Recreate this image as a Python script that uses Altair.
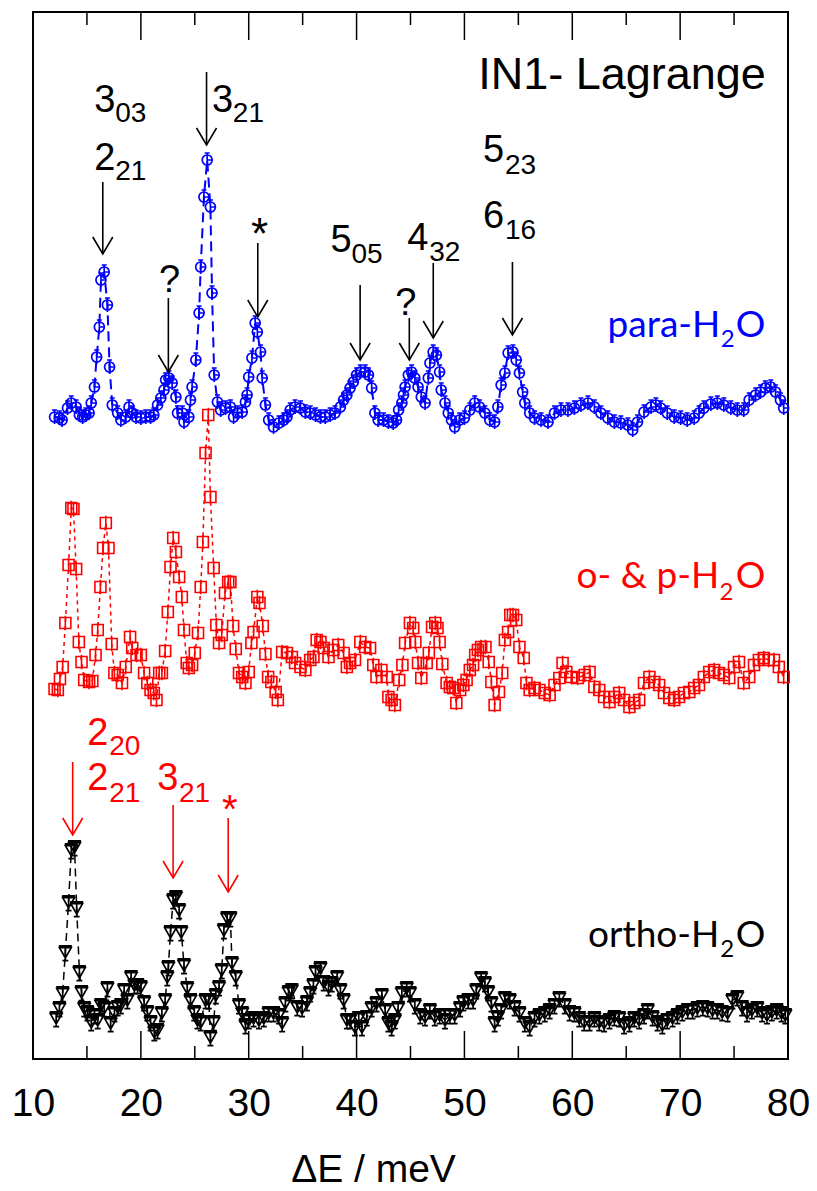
import altair as alt
import pandas as pd

# ---------------- data (x in meV, y = intensity in offset units) ----------------
para_x = [12.0, 12.45, 12.7, 13.2, 13.55, 14.0, 14.3, 14.6, 14.9, 15.2, 15.4, 15.7, 15.9, 16.15, 16.3, 16.6,
          16.9, 17.1, 17.35, 17.85, 18.15, 18.6, 18.9, 19.2, 19.55, 20.0, 20.45, 20.9, 21.2, 21.55, 21.85,
          22.15, 22.3, 22.6, 22.9, 23.25, 23.4, 23.85, 24.0, 24.45, 24.6, 24.75, 25.1, 25.4, 25.55, 25.85,
          26.15, 26.45, 26.6, 26.8, 27.1, 27.4, 27.85, 28.3, 28.6, 28.95, 29.4, 29.7, 29.85, 30.0, 30.3,
          30.6, 30.8, 31.1, 31.25, 31.55, 31.85, 32.3, 32.8, 33.25, 33.55, 33.85, 34.3, 34.8, 35.25, 35.7,
          36.2, 36.65, 37.1, 37.55, 38.0, 38.5, 38.8, 39.1, 39.4, 39.7, 40.0, 40.35, 40.8, 41.1, 41.4, 41.7,
          42.0, 42.5, 42.95, 43.4, 43.7, 43.9, 44.2, 44.35, 44.5, 44.8, 45.1, 45.4, 45.7, 46.0, 46.35, 46.65,
          46.8, 47.1, 47.4, 47.7, 47.85, 48.2, 48.5, 48.8, 49.1, 49.55, 50.0, 50.5, 50.95, 51.4, 51.9, 52.35,
          52.8, 53.1, 53.4, 53.75, 54.05, 54.5, 54.8, 55.1, 55.4, 55.6, 56.05, 56.5, 57.1, 57.75, 58.35,
          58.95, 59.6, 60.2, 60.8, 61.45, 62.05, 62.65, 63.3, 63.9, 64.5, 65.15, 65.6, 66.05, 66.65, 67.3,
          67.75, 68.2, 68.8, 69.45, 70.05, 70.65, 71.3, 71.75, 72.2, 72.85, 73.45, 74.05, 74.7, 75.3, 75.9,
          76.4, 77.0, 77.45, 77.9, 78.4, 78.85, 79.3, 79.6]
para_y = [64.2, 64.1, 63.9, 65.1, 65.6, 65.2, 64.4, 64.2, 64.4, 64.6, 65.6, 67.2, 70.2, 73.2, 77.9, 78.7,
          75.4, 69.2, 65.4, 64.6, 63.9, 64.2, 65.2, 64.6, 64.2, 64.1, 64.2, 64.2, 64.4, 65.4, 66.1,
          66.9, 67.9, 68.1, 67.6, 66.2, 64.6, 64.6, 63.7, 64.2, 65.9, 67.2, 69.9, 74.6, 79.2, 86.2,
          89.9, 85.2, 76.6, 68.4, 65.7, 64.9, 65.1, 65.2, 64.2, 64.6, 64.7, 65.7, 66.4, 68.2, 70.1,
          73.6, 72.7, 70.7, 68.1, 65.4, 63.9, 63.2, 63.6, 63.9, 64.2, 64.9, 65.2, 65.1, 64.7, 64.6,
          64.4, 64.2, 64.2, 64.4, 64.6, 65.2, 65.9, 66.4, 67.1, 67.7, 68.4, 68.7, 68.7, 68.4, 67.1, 64.6,
          63.9, 63.9, 63.7, 63.6, 63.9, 64.9, 65.6, 66.4, 67.2, 68.4, 68.7, 68.1, 67.2, 66.2, 65.6, 68.1,
          69.6, 70.7, 70.4, 68.7, 66.9, 65.6, 64.6, 63.9, 63.2, 63.9, 64.1, 64.9, 65.6, 65.2, 64.6, 63.9,
          63.7, 65.2, 67.4, 68.6, 70.6, 70.7, 69.9, 68.6, 66.7, 65.6, 64.6, 64.1, 63.9, 63.7, 64.6,
          64.9, 64.9, 65.1, 65.4, 65.6, 65.2, 64.6, 64.1, 63.7, 63.6, 63.4, 62.9, 63.7, 64.7, 65.2,
          65.4, 65.1, 64.6, 64.2, 64.1, 63.9, 64.1, 64.6, 65.1, 65.5, 65.6, 65.4, 65.1, 64.9, 64.9,
          65.9, 66.4, 66.7, 67.1, 67.2, 66.7, 65.9, 65.1]

mix_x = [12.0, 12.3, 12.5, 12.75, 13.0, 13.3, 13.55, 13.75, 14.0, 14.25, 14.5, 14.75, 15.2, 15.5, 15.8, 16.0,
         16.25, 16.5, 16.75, 17.0, 17.3, 17.55, 17.85, 18.25, 18.6, 19.0, 19.2, 19.6, 20.0, 20.3, 20.6,
         20.9, 21.2, 21.45, 21.7, 21.95, 22.25, 22.5, 22.75, 23.0, 23.25, 23.55, 23.8, 24.0, 24.25, 24.45,
         24.75, 25.0, 25.3, 25.55, 25.75, 26.0, 26.25, 26.45, 26.75, 27.0, 27.25, 27.5, 27.8, 28.1, 28.3,
         28.55, 28.8, 29.1, 29.4, 29.7, 30.0, 30.25, 30.45, 30.8, 31.0, 31.3, 31.55, 31.8, 32.1, 32.5,
         32.7, 33.1, 33.55, 34.0, 34.3, 34.8, 35.25, 35.7, 36.0, 36.3, 36.65, 36.95, 37.4, 37.85, 38.3,
         38.8, 39.1, 39.4, 39.85, 40.35, 40.8, 41.25, 41.55, 41.85, 42.3, 42.8, 42.95, 43.25, 43.55, 43.95,
         44.25, 44.5, 44.95, 45.25, 45.45, 45.7, 46.0, 46.5, 46.7, 47.0, 47.3, 47.5, 47.7, 47.95, 48.35,
         48.65, 48.95, 49.25, 49.6, 49.9, 50.2, 50.5, 50.8, 51.0, 51.25, 51.55, 51.95, 52.25, 52.5, 52.8,
         53.2, 53.5, 53.75, 54.05, 54.25, 54.5, 54.8, 55.1, 55.5, 55.75, 56.05, 56.5, 56.95, 57.45, 57.9,
         58.35, 58.8, 59.1, 59.45, 59.9, 60.5, 61.15, 61.6, 62.05, 62.5, 62.95, 63.45, 63.9, 64.35, 64.8,
         65.3, 65.75, 66.2, 66.65, 67.15, 67.6, 68.05, 68.5, 69.0, 69.45, 69.9, 70.35, 70.85, 71.3, 71.75,
         72.2, 72.7, 73.15, 73.6, 74.05, 74.55, 75.0, 75.45, 75.9, 76.4, 76.85, 77.3, 77.75, 78.2, 78.7,
         79.15, 79.6]
mix_y = [37.0, 36.9, 38.0, 39.2, 43.6, 49.4, 55.1, 55.0, 49.0, 41.7, 39.7, 37.9, 37.7, 37.8, 40.4, 42.9,
         47.2, 51.1, 53.6, 51.1, 41.5, 38.6, 38.4, 37.6, 39.2, 42.2, 41.1, 40.4, 40.4, 38.6, 37.6,
         36.9, 36.6, 35.9, 38.6, 38.6, 40.8, 44.7, 49.2, 52.1, 50.7, 48.2, 46.2, 42.9, 39.6, 39.1,
         39.4, 40.6, 42.6, 47.2, 51.7, 60.6, 64.4, 56.2, 49.1, 43.4, 41.6, 42.4, 46.6, 47.7, 47.7,
         43.3, 41.0, 38.6, 38.2, 37.6, 38.7, 41.6, 42.7, 46.2, 45.6, 43.3, 40.5, 38.2, 37.7, 36.7,
         35.9, 40.7, 40.6, 40.2, 39.6, 39.2, 38.9, 39.9, 40.2, 41.9, 41.7, 41.1, 40.2, 40.9, 41.4,
         40.6, 39.2, 39.6, 39.9, 41.7, 41.2, 41.1, 39.4, 38.2, 38.9, 38.2, 36.2, 35.9, 35.4, 37.9,
         39.4, 41.6, 43.6, 43.1, 41.7, 39.6, 38.1, 39.6, 40.6, 43.2, 43.6, 43.1, 41.7, 39.5, 37.6,
         37.2, 37.1, 35.6, 36.9, 37.4, 37.9, 38.9, 39.4, 40.4, 40.9, 41.2, 41.2, 39.7, 37.7, 35.4,
         36.7, 38.6, 41.9, 42.7, 44.4, 44.4, 43.9, 41.2, 40.1, 37.6, 36.9, 37.1, 36.9, 36.6, 36.4,
         37.4, 38.1, 39.6, 38.7, 38.2, 38.1, 38.4, 38.7, 37.2, 36.9, 36.2, 35.7, 36.2, 36.6, 35.9,
         35.2, 35.6, 35.9, 37.6, 38.2, 37.7, 37.4, 36.6, 36.1, 35.9, 36.2, 36.6, 36.7, 37.1, 37.4,
         38.2, 38.7, 38.9, 38.6, 38.4, 38.1, 39.2, 39.7, 37.6, 38.2, 39.4, 39.9, 40.1, 39.9, 39.9,
         39.2, 38.2]

ortho_x = [12.15, 12.45, 12.75, 13.0, 13.3, 13.55, 13.85, 14.05, 14.3, 14.5, 14.75, 15.05, 15.4, 15.7, 16.0,
           16.3, 16.6, 16.9, 17.2, 17.55, 17.85, 18.15, 18.45, 18.75, 19.1, 19.4, 19.7, 20.0, 20.3, 20.6,
           20.9, 21.25, 21.55, 21.95, 22.25, 22.45, 22.55, 22.75, 23.0, 23.25, 23.55, 23.75, 24.0, 24.3,
           24.6, 24.95, 25.25, 25.55, 26.0, 26.3, 26.45, 26.75, 26.95, 27.25, 27.5, 27.7, 28.0, 28.3,
           28.45, 28.8, 29.1, 29.4, 29.7, 30.0, 30.45, 30.95, 31.4, 31.85, 32.3, 32.8, 33.1, 33.4, 33.7,
           34.0, 34.5, 34.95, 35.4, 35.7, 36.0, 36.2, 36.65, 36.95, 37.4, 37.7, 38.2, 38.5, 38.8, 39.1,
           39.4, 39.85, 40.2, 40.5, 40.95, 41.4, 41.85, 42.35, 42.65, 42.95, 43.25, 43.55, 43.85, 44.2,
           44.65, 44.95, 45.4, 45.9, 46.35, 46.8, 47.25, 47.7, 48.2, 48.65, 49.1, 49.6, 49.9, 50.35,
           50.8, 51.1, 51.55, 51.9, 52.2, 52.5, 52.8, 53.1, 53.4, 53.75, 54.2, 54.65, 55.1, 55.6, 56.05,
           56.5, 56.95, 57.45, 57.9, 58.35, 58.8, 59.3, 59.75, 60.2, 60.65, 61.1, 61.6, 62.05, 62.5,
           62.95, 63.45, 63.9, 64.35, 64.8, 65.3, 65.75, 66.2, 66.65, 67.0, 67.45, 67.9, 68.35, 68.8,
           69.3, 69.75, 70.2, 70.7, 71.15, 71.6, 72.1, 72.55, 73.0, 73.45, 73.9, 74.4, 74.85, 75.3,
           75.75, 76.2, 76.65, 77.15, 77.6, 78.05, 78.5, 78.95, 79.4, 79.75]
ortho_y = [4.1, 5.1, 6.6, 10.7, 15.7, 20.9, 21.2, 15.1, 8.7, 6.7, 5.1, 4.7, 3.7, 4.4, 3.9,
           5.4, 5.1, 7.1, 3.6, 4.6, 5.2, 5.4, 6.9, 5.9, 8.2, 7.4, 7.4, 7.2, 5.7, 4.7,
           3.7, 2.7, 2.9, 4.6, 5.9, 8.2, 9.2, 12.7, 15.9, 16.2, 14.9, 12.7, 9.4, 7.1,
           5.9, 4.7, 3.9, 3.7, 5.9, 5.9, 2.2, 3.7, 6.4, 7.2, 8.9, 12.9, 14.1, 14.1,
           9.6, 8.2, 5.4, 4.6, 3.4, 3.9, 4.1, 3.9, 4.1, 4.6, 4.6, 4.4, 3.6, 5.6, 6.7,
           6.9, 5.2, 5.1, 5.7, 6.6, 7.4, 8.7, 9.1, 7.7, 7.2, 7.6, 8.2, 6.9, 5.9, 3.9,
           3.9, 3.2, 4.1, 3.2, 4.2, 5.1, 5.6, 6.4, 4.9, 3.6, 3.2, 3.9, 5.1, 6.6,
           7.1, 6.6, 5.4, 4.4, 4.2, 4.9, 4.2, 4.4, 3.9, 4.4, 4.4, 5.1, 5.7, 5.9,
           5.9, 6.9, 8.1, 7.6, 6.7, 5.6, 3.6, 4.2, 4.9, 6.1, 5.9, 5.2, 4.6, 3.6, 3.2,
           4.1, 4.4, 4.6, 4.9, 5.4, 6.1, 5.4, 4.7, 4.6, 4.1, 3.7, 3.7, 4.1, 3.7,
           3.6, 3.9, 4.2, 4.1, 3.4, 3.6, 4.1, 3.9, 4.4, 4.9, 4.2, 3.7, 3.4, 3.9,
           4.1, 4.4, 4.7, 4.9, 4.9, 5.1, 5.2, 5.1, 4.9, 4.9, 4.7, 4.6, 5.9, 6.2,
           5.2, 4.6, 4.9, 5.1, 4.6, 4.4, 4.7, 4.9, 4.6, 4.4]

tick_labels = [10, 20, 30, 40, 50, 60, 70, 80]
major_ticks = [20, 30, 40, 50, 60, 70]
minor_ticks = [15, 25, 35, 45, 55, 65, 75]

# annotations (data coordinates)
blk_main_text = ["3", "2", "3", "?", "5", "?", "4", "5", "6"]
blk_main_x = [15.68, 15.68, 26.59, 21.69, 37.59, 43.59, 44.70, 51.73, 51.73]
blk_main_y = [94.7, 88.9, 94.7, 76.7, 80.7, 74.4, 80.9, 89.7, 83.1]
blk_sub_text = ["03", "21", "21", "05", "32", "23", "16"]
blk_sub_x = [17.62, 17.62, 28.53, 39.53, 46.73, 53.76, 53.76]
blk_sub_y = [93.7, 87.9, 93.7, 79.6, 79.8, 88.5, 82.0]
blk_star_x, blk_star_y = [31.0], [81.0]
blk_arrow_x = [16.47, 22.55, 26.09, 30.84, 40.33, 44.89, 47.11, 54.45]
blk_arrow_top = [87.7, 76.1, 98.7, 81.6, 77.4, 74.1, 79.6, 79.7]
blk_arrow_bot = [80.5, 68.7, 91.4, 74.2, 69.9, 69.9, 72.1, 72.4]

red_main_text = ["2", "2", "3"]
red_main_x = [15.04, 15.04, 21.51]
red_main_y = [31.4, 26.9, 26.9]
red_sub_text = ["20", "21", "21"]
red_sub_x = [17.07, 17.07, 23.54]
red_sub_y = [30.4, 25.7, 25.7]
red_star_x, red_star_y = [28.25], [23.6]
red_arrow_x = [13.68, 22.99, 28.10]
red_arrow_top = [29.7, 25.4, 24.1]
red_arrow_bot = [22.4, 18.1, 16.7]

series_names = ["para", "mix", "ortho"]
series_label = ["para-H", "o- & p-H", "ortho-H"]
series_label_x = [73.72, 73.63, 73.63]
series_label_y = [72.2, 47.1, 11.2]
series_sub_x = [74.40, 74.30, 74.37]
series_sub_y = [71.2, 45.9, 10.2]
series_o_x = [75.15, 75.15, 75.15]

instrument_text, instrument_x, instrument_y = ["IN1- Lagrange"], [51.27], [97.0]

# ---------------- chart ----------------
W, H = 755, 1047
FONT = "Liberation Sans"
xs = alt.Scale(domain=[10, 80], nice=False, zero=False)
ys = alt.Scale(domain=[0, 104.7], nice=False, zero=False)
x_axis = alt.Axis(values=tick_labels, ticks=False, domain=False, grid=False,
                  labelFont=FONT, labelFontSize=39, labelColor="black",
                  labelBaseline="alphabetic", labelPadding=56, labelFlush=False,
                  labelOverlap=False, labelBound=False,
                  title="ΔE / meV", titleFont=FONT, titleFontSize=39, titleFontWeight="normal",
                  titleColor="black", titleX=340, titleY=122, titleBaseline="alphabetic",
                  titleAlign="center")


def X(field="x"):
    return alt.X(f"{field}:Q", scale=xs, axis=x_axis)


def Y(field="y"):
    return alt.Y(f"{field}:Q", scale=ys, axis=None)


CIRCLE = "M -1 0 A 1 1 0 1 1 1 0 A 1 1 0 1 1 -1 0 Z M 0 -1.4 L 0 1.4 M -0.5 -1.4 L 0.5 -1.4 M 0 0 L 1 0"
SQUARE = "M -1 -1 L 1 -1 L 1 1 L -1 1 Z M 0 -1.3 L 0 1.3"
TRIANGLE = "M -1 -0.75 L 1 -0.75 L 0 1 Z M 0 -1.05 L 0 1.45 M -1.1 -1.05 L 1.1 -1.05 M -0.5 1.45 L 0.5 1.45"
VHEAD = "M -1 -1.7 L 0 0 L 1 -1.7"


def series(xv, yv, color, shape, size, dash, lw, sw):
    df = pd.DataFrame({"x": xv, "y": yv})
    base = alt.Chart(df)
    line = base.mark_line(color=color, strokeDash=dash, strokeWidth=lw).encode(x=X(), y=Y())
    pts = base.mark_point(shape=shape, size=size, color=color, filled=False,
                          strokeWidth=sw, opacity=1).encode(x=X(), y=Y())
    return [line, pts]


layers = []

# tick marks (inward, bottom and top)
for vals, length in [(major_ticks, 28), (minor_ticks, 13)]:
    tdf = pd.DataFrame({"x": vals})
    layers.append(alt.Chart(tdf).mark_rule(color="black", strokeWidth=1.5).encode(
        x=X(), y=alt.value(H), y2=alt.value(H - length)))
    layers.append(alt.Chart(tdf).mark_rule(color="black", strokeWidth=1.5).encode(
        x=X(), y=alt.value(0), y2=alt.value(length)))

layers += series(para_x, para_y, "#0000ff", CIRCLE, 100, [10, 6], 2, 1.7)
layers += series(mix_x, mix_y, "#ff0000", SQUARE, 121, [4, 4], 1.5, 1.6)
layers += series(ortho_x, ortho_y, "#000000", TRIANGLE, 140, [8, 5], 1.5, 1.7)


def arrows(xv, top, bot, color):
    df = pd.DataFrame({"x": xv, "top": top, "bot": bot})
    shaft = alt.Chart(df).mark_rule(color=color, strokeWidth=1.6).encode(x=X(), y=Y("top"), y2="bot:Q")
    head = alt.Chart(df).mark_point(shape=VHEAD, size=400, color=color, filled=False,
                                    strokeWidth=1.6, opacity=1).encode(x=X(), y=Y("bot"))
    return [shaft, head]


def texts(tv, xv, yv, color, size, align="left", font=FONT):
    df = pd.DataFrame({"t": tv, "x": xv, "y": yv})
    return alt.Chart(df).mark_text(color=color, fontSize=size, font=font, align=align,
                                   baseline="alphabetic").encode(x=X(), y=Y(), text="t:N")


layers += arrows(blk_arrow_x, blk_arrow_top, blk_arrow_bot, "black")
layers += arrows(red_arrow_x, red_arrow_top, red_arrow_bot, "#ff0000")

layers.append(texts(blk_main_text, blk_main_x, blk_main_y, "black", 38))
layers.append(texts(blk_sub_text, blk_sub_x, blk_sub_y, "black", 28))
layers.append(texts(["*"], blk_star_x, blk_star_y, "black", 44, "center"))
layers.append(texts(red_main_text, red_main_x, red_main_y, "#ff0000", 38))
layers.append(texts(red_sub_text, red_sub_x, red_sub_y, "#ff0000", 28))
layers.append(texts(["*"], red_star_x, red_star_y, "#ff0000", 40, "center"))
layers.append(texts(instrument_text, instrument_x, instrument_y, "black", 45))

color_scale = alt.Scale(domain=series_names, range=["#0000ff", "#ff0000", "#000000"])
lab_df = pd.DataFrame({"s": series_names, "t": series_label, "x": series_label_x, "y": series_label_y,
                       "sx": series_sub_x, "sy": series_sub_y, "ox": series_o_x})
lab_base = alt.Chart(lab_df)
col = alt.Color("s:N", scale=color_scale, legend=None)
layers.append(lab_base.mark_text(fontSize=37, font="Lato", align="right", baseline="alphabetic").encode(
    x=X(), y=Y(), text="t:N", color=col))
layers.append(lab_base.mark_text(fontSize=24, font="Lato", align="center", baseline="alphabetic").encode(
    x=X("sx"), y=Y("sy"), text=alt.value("2"), color=col))
layers.append(lab_base.mark_text(fontSize=37, font="Lato", align="left", baseline="alphabetic").encode(
    x=X("ox"), y=Y(), text=alt.value("O"), color=col))

chart = alt.layer(*layers).properties(
    width=W, height=H,
    autosize=alt.AutoSizeParams(type="none"),
    padding={"left": 25, "top": 4, "right": 21, "bottom": 132},
).configure_view(stroke="black", strokeWidth=2)

chart.save("out.html", embed_options={"renderer": "svg", "actions": False})
